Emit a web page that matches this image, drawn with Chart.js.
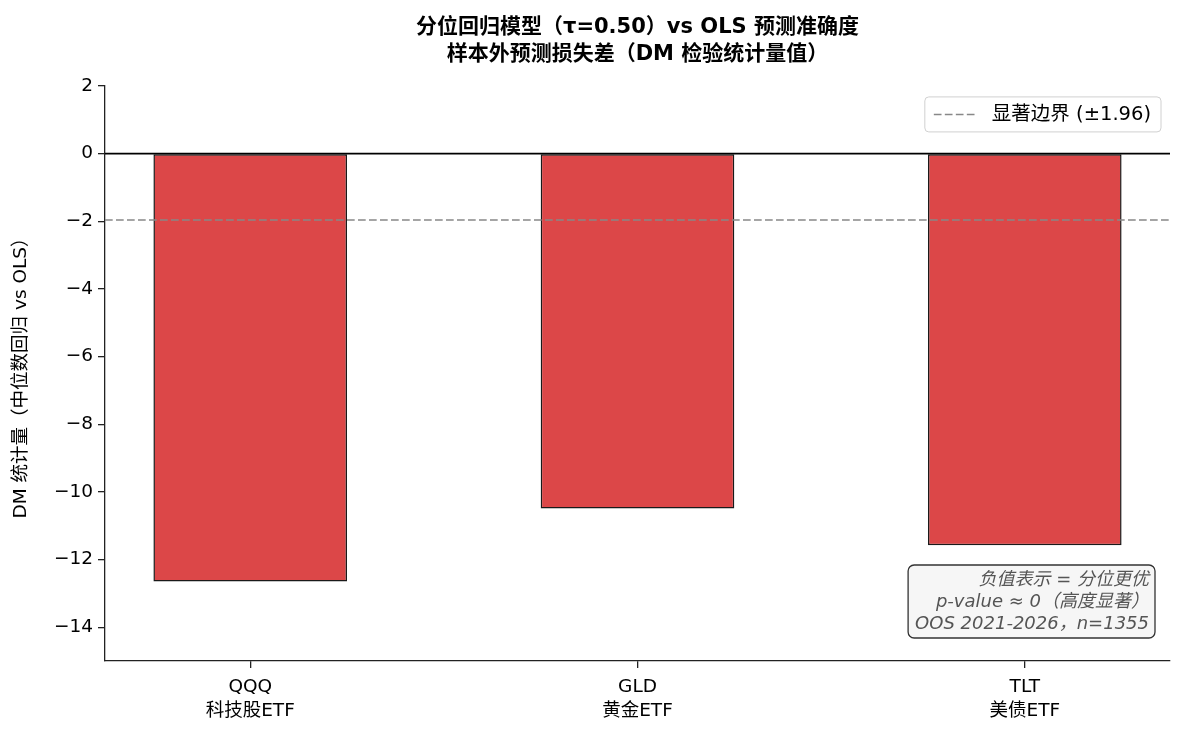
<!DOCTYPE html>
<html>
<head>
<meta charset="utf-8">
<script src="https://cdn.jsdelivr.net/npm/chart.js@4.4.1/dist/chart.umd.min.js"></script>
<style>
    html, body { margin: 0; padding: 0; background: #fff; }
</style>
</head>
<body>
<canvas id="dm-chart" width="1185" height="735"></canvas>
<script>
// Data
const tickers = ['QQQ', 'GLD', 'TLT'];
const assetNames = ['科技股ETF', '黄金ETF', '美债ETF'];
const dmStats = [-12.65, -10.49, -11.58];
const yTicks = [2, 0, -2, -4, -6, -8, -10, -12, -14];
const critValue = -1.96;
const legendLabel = '显著边界 (±1.96)';
const noteLines = ['负值表示 = 分位更优', 'p-value ≈ 0（高度显著）', 'OOS 2021-2026，n=1355'];

const FONT = "'DejaVu Sans', 'Noto Sans CJK SC', sans-serif";
const xMin = -0.375;
const xMax = tickers.length - 1 + 0.375;

// Legend box and note box inside the plot area
const overlayPlugin = {
    id: 'overlay',
    afterDraw(chart) {
        const ctx = chart.ctx;
        const area = chart.chartArea;
        ctx.save();

        // Legend (upper right)
        ctx.font = `19.5px ${FONT}`;
        const tw = ctx.measureText(legendLabel).width;
        const lw = 9 + 41 + 17 + tw + 10;
        const lh = 35;
        const lRight = area.right - 9;
        const lTop = area.top + 11;
        const lLeft = lRight - lw;
        ctx.beginPath();
        ctx.roundRect(lLeft, lTop, lw, lh, 4);
        ctx.fillStyle = 'rgba(255,255,255,0.85)';
        ctx.fill();
        ctx.strokeStyle = '#d0d0d0';
        ctx.lineWidth = 1;
        ctx.stroke();

        const midY = lTop + lh / 2;
        ctx.beginPath();
        ctx.setLineDash([7.7, 3.3]);
        ctx.moveTo(lLeft + 9, midY);
        ctx.lineTo(lLeft + 50, midY);
        ctx.strokeStyle = '#888';
        ctx.lineWidth = 1.5;
        ctx.stroke();
        ctx.setLineDash([]);

        ctx.fillStyle = '#000';
        ctx.textBaseline = 'middle';
        ctx.textAlign = 'left';
        ctx.fillText(legendLabel, lLeft + 67, midY + 1);

        // Note (lower right)
        ctx.font = `italic 18px ${FONT}`;
        const widths = noteLines.map(t => ctx.measureText(t).width);
        const maxW = Math.max(...widths);
        const textRight = area.right - 21;
        const nBottom = area.bottom - 23;
        const lineGap = 22;
        const nh = 73;
        const nTop = nBottom - nh;
        const nLeft = textRight - maxW - 7;
        const nw = (area.right - 15) - nLeft;
        ctx.beginPath();
        ctx.roundRect(nLeft, nTop, nw, nh, 6);
        ctx.fillStyle = 'rgba(245,245,245,0.92)';
        ctx.fill();
        ctx.strokeStyle = '#333';
        ctx.lineWidth = 1.3;
        ctx.stroke();

        ctx.fillStyle = '#555';
        ctx.textAlign = 'right';
        noteLines.forEach((t, i) => {
            ctx.fillText(t, textRight, nTop + 15 + i * lineGap);
        });

        ctx.restore();
    }
};

const canvas = document.getElementById('dm-chart');
new Chart(canvas, {
    type: 'bar',
    data: {
        datasets: [
            {
                type: 'line',
                label: 'zero',
                data: [{ x: xMin, y: 0 }, { x: xMax, y: 0 }],
                borderColor: '#000',
                borderWidth: 1.8,
                pointRadius: 0,
                order: 0
            },
            {
                type: 'line',
                label: legendLabel,
                data: [{ x: xMin, y: critValue }, { x: xMax, y: critValue }],
                borderColor: '#888',
                borderWidth: 1.5,
                borderDash: [7.7, 3.3],
                pointRadius: 0,
                order: 0
            },
            {
                type: 'bar',
                label: 'DM',
                data: dmStats.map((v, i) => ({ x: i, y: v })),
                backgroundColor: 'rgba(214,39,40,0.85)',
                borderColor: '#1a1a1a',
                borderWidth: 1.5,
                borderSkipped: false,
                barPercentage: 0.5,
                categoryPercentage: 1.0,
                order: 1
            }
        ]
    },
    options: {
        responsive: false,
        devicePixelRatio: 1,
        animation: false,
        layout: { padding: { left: 0, right: 15, top: 0, bottom: 0 } },
        plugins: {
            legend: { display: false },
            tooltip: { enabled: false },
            title: {
                display: true,
                fullSize: false,
                text: ['分位回归模型（τ=0.50）vs OLS 预测准确度', '样本外预测损失差（DM 检验统计量值）'],
                color: '#000',
                font: { family: FONT, size: 21, weight: 'bold', lineHeight: 1.26 },
                padding: { top: 14.5, bottom: 18.5 }
            }
        },
        scales: {
            x: {
                type: 'linear',
                min: xMin,
                max: xMax,
                offset: false,
                afterBuildTicks: scale => {
                    scale.ticks = tickers.map((t, i) => ({ value: i }));
                },
                afterFit: scale => { scale.height = 74; },
                ticks: {
                    callback: value => [tickers[value], assetNames[value]],
                    color: '#000',
                    font: { family: FONT, size: 18.5, lineHeight: 1.25 },
                    padding: 8,
                    maxRotation: 0,
                    autoSkip: false
                },
                grid: {
                    display: true,
                    offset: false,
                    drawOnChartArea: false,
                    drawTicks: true,
                    tickLength: 7,
                    color: '#222',
                    lineWidth: 1.3
                },
                border: { display: true, color: '#222', width: 1.3 }
            },
            y: {
                min: -15,
                max: 2,
                afterBuildTicks: scale => {
                    scale.ticks = yTicks.map(v => ({ value: v }));
                },
                afterFit: scale => { scale.width = 105; },
                ticks: {
                    callback: value => value < 0 ? '\u2212' + Math.abs(value) : String(value),
                    color: '#000',
                    font: { family: FONT, size: 18.5 },
                    padding: 5
                },
                grid: {
                    display: true,
                    drawOnChartArea: false,
                    drawTicks: true,
                    tickLength: 7,
                    color: '#222',
                    lineWidth: 1.3
                },
                border: { display: true, color: '#222', width: 1.3 },
                title: {
                    display: true,
                    text: 'DM 统计量（中位数回归 vs OLS）',
                    color: '#000',
                    font: { family: FONT, size: 18.5 },
                    padding: { top: 10, bottom: 0 }
                }
            }
        }
    },
    plugins: [overlayPlugin]
});
</script>
</body>
</html>
